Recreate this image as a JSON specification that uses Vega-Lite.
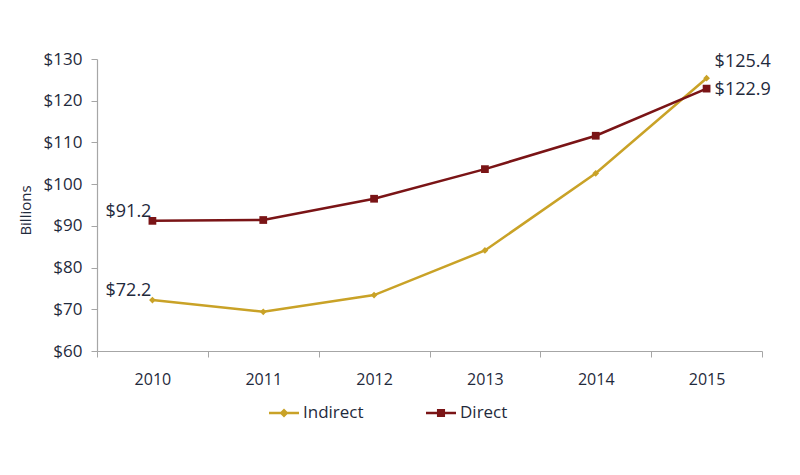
{
  "$schema": "https://vega.github.io/schema/vega-lite/v6.json",
  "width": 665,
  "height": 292,
  "autosize": {"type": "none"},
  "padding": {"left": 97, "top": 59, "right": 38, "bottom": 124},
  "background": "white",
  "config": {
    "view": {"stroke": null},
    "font": "Open Sans",
    "axis": {"labelFont": "Open Sans", "titleFont": "Open Sans", "labelColor": "#1f2a3c", "titleColor": "#1f2a3c"},
    "legend": {"labelFont": "Open Sans"}
  },
  "data": {
    "values": [
      {"year": "2010", "series": "Indirect", "value": 72.2},
      {"year": "2011", "series": "Indirect", "value": 69.4},
      {"year": "2012", "series": "Indirect", "value": 73.4},
      {"year": "2013", "series": "Indirect", "value": 84.1},
      {"year": "2014", "series": "Indirect", "value": 102.6},
      {"year": "2015", "series": "Indirect", "value": 125.4},
      {"year": "2010", "series": "Direct", "value": 91.2},
      {"year": "2011", "series": "Direct", "value": 91.4},
      {"year": "2012", "series": "Direct", "value": 96.5},
      {"year": "2013", "series": "Direct", "value": 103.6},
      {"year": "2014", "series": "Direct", "value": 111.6},
      {"year": "2015", "series": "Direct", "value": 122.9}
    ]
  },
  "encoding": {
    "x": {
      "field": "year", "type": "ordinal",
      "scale": {"paddingInner": 0, "paddingOuter": 0},
      "axis": {
        "title": null, "labelAngle": 0, "labelFontSize": 16, "labelPadding": 14,
        "domainColor": "#a6a6a6", "tickColor": "#a6a6a6", "tickSize": 6, "tickBand": "extent",
        "domainWidth": 1.2, "grid": false
      }
    },
    "y": {
      "field": "value", "type": "quantitative",
      "scale": {"domain": [60, 130], "nice": false, "zero": false},
      "axis": {
        "title": "Billions", "titleFontSize": 15, "titleFontWeight": "normal",
        "titleX": -72, "titleY": 151, "titleAngle": -90, "titleAlign": "center", "titleBaseline": "middle",
        "values": [60, 70, 80, 90, 100, 110, 120, 130],
        "labelExpr": "'$' + datum.value", "labelFontSize": 17, "labelPadding": 9,
        "domainColor": "#a6a6a6", "tickColor": "#a6a6a6", "tickSize": 6, "domainWidth": 1.2, "grid": false
      }
    },
    "color": {
      "field": "series", "type": "nominal",
      "scale": {"domain": ["Indirect", "Direct"], "range": ["#c9a227", "#7a1416"]},
      "legend": null
    }
  },
  "resolve": {
    "scale": {"shape": "independent", "fill": "independent"},
    "legend": {"shape": "independent", "fill": "independent"}
  },
  "layer": [
    {
      "mark": {"type": "line", "strokeWidth": 2.5},
      "encoding": {"detail": {"field": "series"}}
    },
    {
      "mark": {"type": "point", "filled": true, "opacity": 1},
      "encoding": {
        "shape": {
          "field": "series", "type": "nominal",
          "scale": {"domain": ["Indirect", "Direct"], "range": ["diamond", "square"]},
          "legend": null
        },
        "size": {
          "field": "series", "type": "nominal",
          "scale": {"domain": ["Indirect", "Direct"], "range": [45, 60]},
          "legend": null
        }
      }
    },
    {
      "transform": [{"filter": "false"}],
      "mark": {"type": "point", "filled": true, "opacity": 1, "strokeWidth": 0},
      "encoding": {
        "color": {"value": null},
        "fill": {
          "field": "series", "type": "nominal",
          "scale": {"domain": ["Indirect", "Direct"], "range": ["#c9a227", "#7a1416"]},
          "legend": {
            "title": null, "orient": "none", "direction": "horizontal",
            "legendX": 172, "legendY": 339, "columnPadding": 62,
            "labelFontSize": 17, "labelColor": "#1f2a3c", "symbolSize": 900, "labelOffset": 4,
            "symbolStrokeWidth": 0
          }
        },
        "shape": {
          "field": "series", "type": "nominal",
          "scale": {
            "domain": ["Indirect", "Direct"],
            "range": [
              "M-1,-0.085H1V0.085H-1Z M0,-0.3L0.3,0L0,0.3L-0.3,0Z",
              "M-1,-0.085H1V0.085H-1Z M-0.27,-0.27H0.27V0.27H-0.27Z"
            ]
          },
          "legend": {
            "title": null, "orient": "none", "direction": "horizontal",
            "legendX": 172, "legendY": 339, "columnPadding": 62,
            "labelFontSize": 17, "labelColor": "#1f2a3c", "symbolSize": 900, "labelOffset": 4,
            "symbolStrokeWidth": 0
          }
        }
      }
    },
    {
      "transform": [{"filter": "datum.year == '2010'"}],
      "mark": {"type": "text", "align": "right", "baseline": "middle", "dx": -1, "dy": -9, "fontSize": 18},
      "encoding": {"text": {"field": "value", "type": "quantitative", "format": "$.1f"}, "color": {"value": "#1f2a3c"}}
    },
    {
      "transform": [{"filter": "datum.year == '2015' && datum.series == 'Indirect'"}],
      "mark": {"type": "text", "align": "left", "baseline": "middle", "dx": 8, "dy": -16, "fontSize": 18},
      "encoding": {"text": {"field": "value", "type": "quantitative", "format": "$.1f"}, "color": {"value": "#1f2a3c"}}
    },
    {
      "transform": [{"filter": "datum.year == '2015' && datum.series == 'Direct'"}],
      "mark": {"type": "text", "align": "left", "baseline": "middle", "dx": 8, "dy": 1, "fontSize": 18},
      "encoding": {"text": {"field": "value", "type": "quantitative", "format": "$.1f"}, "color": {"value": "#1f2a3c"}}
    }
  ]
}
